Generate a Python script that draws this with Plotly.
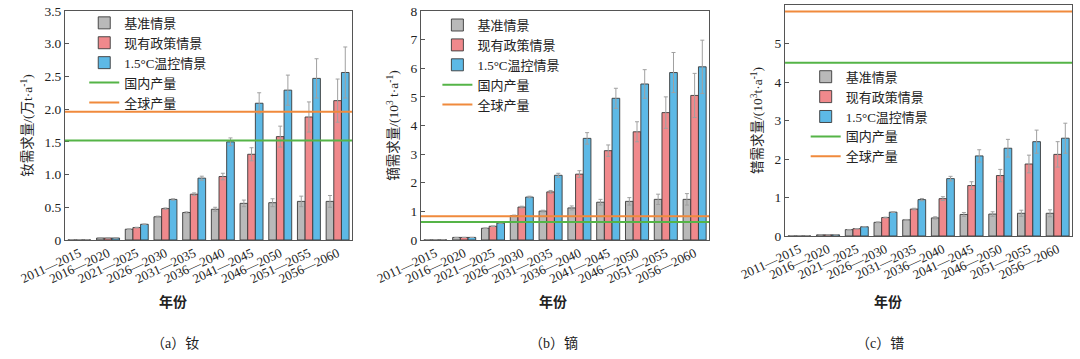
import plotly.graph_objects as go

periods = ["2011—2015", "2016—2020", "2021—2025", "2026—2030", "2031—2035",
           "2036—2040", "2041—2045", "2046—2050", "2051—2055", "2056—2060"]
series_names = ["基准情景", "现有政策情景", "1.5°C温控情景"]
line_names = ["国内产量", "全球产量"]

# (a) Nd, 万t/a
nd_base = [0, 0.03, 0.165, 0.355, 0.42, 0.47, 0.56, 0.57, 0.59, 0.59]
nd_policy = [0, 0.03, 0.19, 0.48, 0.70, 0.97, 1.31, 1.58, 1.88, 2.13]
nd_15c = [0, 0.03, 0.24, 0.62, 0.945, 1.50, 2.09, 2.29, 2.47, 2.56]
nd_base_err = [0, 0, 0.005, 0.01, 0.01, 0.03, 0.05, 0.06, 0.08, 0.09]
nd_policy_err = [0, 0, 0.005, 0.01, 0.02, 0.05, 0.10, 0.16, 0.23, 0.33]
nd_15c_err = [0, 0, 0.005, 0.01, 0.03, 0.06, 0.16, 0.23, 0.30, 0.39]
nd_lines = [1.52, 1.96]

# (b) Dy, 10^3 t/a
dy_base = [0, 0.09, 0.41, 0.85, 1.01, 1.12, 1.32, 1.35, 1.42, 1.42]
dy_policy = [0, 0.09, 0.48, 1.15, 1.68, 2.30, 3.12, 3.78, 4.45, 5.05]
dy_15c = [0, 0.09, 0.59, 1.50, 2.26, 3.55, 4.95, 5.45, 5.85, 6.05]
dy_base_err = [0, 0, 0.01, 0.02, 0.03, 0.07, 0.10, 0.13, 0.18, 0.20]
dy_policy_err = [0, 0, 0.01, 0.03, 0.05, 0.12, 0.20, 0.35, 0.55, 0.77]
dy_15c_err = [0, 0, 0.01, 0.03, 0.07, 0.20, 0.35, 0.50, 0.70, 0.93]
dy_lines = [0.63, 0.83]

# (c) Pr, 10^3 t/a
pr_base = [0, 0.03, 0.165, 0.355, 0.42, 0.47, 0.56, 0.57, 0.59, 0.59]
pr_policy = [0, 0.03, 0.19, 0.48, 0.70, 0.97, 1.31, 1.57, 1.87, 2.12]
pr_15c = [0, 0.03, 0.24, 0.62, 0.945, 1.49, 2.08, 2.28, 2.45, 2.54]
pr_base_err = [0, 0, 0.005, 0.01, 0.01, 0.03, 0.05, 0.06, 0.08, 0.09]
pr_policy_err = [0, 0, 0.005, 0.01, 0.02, 0.05, 0.10, 0.16, 0.23, 0.33]
pr_15c_err = [0, 0, 0.005, 0.01, 0.03, 0.06, 0.16, 0.23, 0.30, 0.39]
pr_lines = [4.50, 5.83]

yticks_a = [0, 0.5, 1.0, 1.5, 2.0, 2.5, 3.0, 3.5]
yticks_a_text = ["0", "0.5", "1.0", "1.5", "2.0", "2.5", "3.0", "3.5"]
yticks_b = [0, 1, 2, 3, 4, 5, 6, 7, 8]
yticks_c = [0, 1, 2, 3, 4, 5, 6]

bar_colors = ["#b9b9b9", "#f0898c", "#5db9e6"]
line_colors = ["#55b447", "#f08a3c"]
FONT = "Liberation Serif, Noto Sans CJK SC, serif"

fig = go.Figure()

panels = [
    dict(vals=[nd_base, nd_policy, nd_15c], errs=[nd_base_err, nd_policy_err, nd_15c_err],
         lines=nd_lines, xa="x", ya="y", leg="legend"),
    dict(vals=[dy_base, dy_policy, dy_15c], errs=[dy_base_err, dy_policy_err, dy_15c_err],
         lines=dy_lines, xa="x2", ya="y2", leg="legend2"),
    dict(vals=[pr_base, pr_policy, pr_15c], errs=[pr_base_err, pr_policy_err, pr_15c_err],
         lines=pr_lines, xa="x3", ya="y3", leg="legend3"),
]

xidx = list(range(len(periods)))
for p in panels:
    for i in range(3):
        fig.add_trace(go.Bar(
            x=xidx, y=p["vals"][i], name=series_names[i],
            marker=dict(color=bar_colors[i], line=dict(color="#3a3a3a", width=0.9)),
            error_y=dict(type="data", array=p["errs"][i], color="#a0a0a0", thickness=1, width=2),
            xaxis=p["xa"], yaxis=p["ya"], legend=p["leg"], showlegend=True,
        ))
    for j in range(2):
        fig.add_shape(type="line", xref=p["xa"] + " domain", yref=p["ya"],
                      x0=0, x1=1, y0=p["lines"][j], y1=p["lines"][j],
                      line=dict(color=line_colors[j], width=2),
                      showlegend=True, legend=p["leg"], name=line_names[j])

fig.update_layout(
    width=1080, height=359,
    margin=dict(l=0, r=0, t=0, b=0, autoexpand=False),
    paper_bgcolor="white", plot_bgcolor="white",
    font=dict(family=FONT, size=13, color="#222"),
    barmode="group", bargap=0.2, bargroupgap=0.0,
)

xdoms = [[0.0602, 0.3259], [0.3898, 0.6565], [0.7269, 0.9926]]
ydoms = [[0.3315, 0.9694], [0.3315, 0.9694], [0.3426, 0.9861]]
ytitles = ["钕需求量/(万t·a<sup>-1</sup>)", "镝需求量/(10<sup>3</sup> t·a<sup>-1</sup>)",
           "镨需求量/(10<sup>3</sup>t·a<sup>-1</sup>)"]
yranges = [[0, 3.5], [0, 8], [0, 6]]
ytv = [yticks_a, yticks_b, yticks_c]
ytt = [yticks_a_text, [str(v) for v in yticks_b], [str(v) for v in yticks_c]]

for k in range(3):
    sfx = "" if k == 0 else str(k + 1)
    fig.layout["xaxis" + sfx] = dict(
        domain=xdoms[k], anchor="y" + sfx, range=[-0.5, 9.5], automargin=False,
        tickmode="array", tickvals=xidx, ticktext=periods, tickangle=-25,
        ticks="", showline=True, linecolor="#555", linewidth=1, mirror=True,
        showgrid=False, zeroline=False, tickfont=dict(size=13, color="#222"),
    )
    fig.layout["yaxis" + sfx] = dict(
        domain=ydoms[k], anchor="x" + sfx, range=yranges[k], automargin=False,
        tickmode="array", tickvals=ytv[k], ticktext=ytt[k],
        ticks="inside", ticklen=4, tickcolor="#555",
        showline=True, linecolor="#555", linewidth=1, mirror=True,
        showgrid=False, zeroline=False, tickfont=dict(size=13.5, color="#222"),
        title=dict(text=ytitles[k], font=dict(size=13.5), standoff=8),
    )

legpos = [(0.078, 0.978), (0.405, 0.972), (0.746, 0.828)]
for k, (lx, ly) in enumerate(legpos):
    key = "legend" if k == 0 else "legend" + str(k + 1)
    fig.layout[key] = dict(x=lx, y=ly, xanchor="left", yanchor="top",
                           bgcolor="rgba(0,0,0,0)", font=dict(size=13),
                           tracegroupgap=0, itemwidth=30, traceorder="normal")

ann_xs_title = [173, 553, 888]
cap_texts = ["（a）钕", "（b）镝", "（c）镨"]
cap_xs = [175, 553, 880]
for k in range(3):
    fig.add_annotation(text="<b>年份</b>", x=ann_xs_title[k] / 1080, y=1 - 302 / 359,
                       xref="paper", yref="paper", showarrow=False,
                       font=dict(size=14), xanchor="center", yanchor="middle")
    fig.add_annotation(text=cap_texts[k], x=cap_xs[k] / 1080, y=1 - 343 / 359,
                       xref="paper", yref="paper", showarrow=False,
                       font=dict(size=14), xanchor="center", yanchor="middle")

fig.write_html("out.html", config={"displayModeBar": False},
               post_script="document.body.style.margin='0';document.body.style.overflow='hidden';")
